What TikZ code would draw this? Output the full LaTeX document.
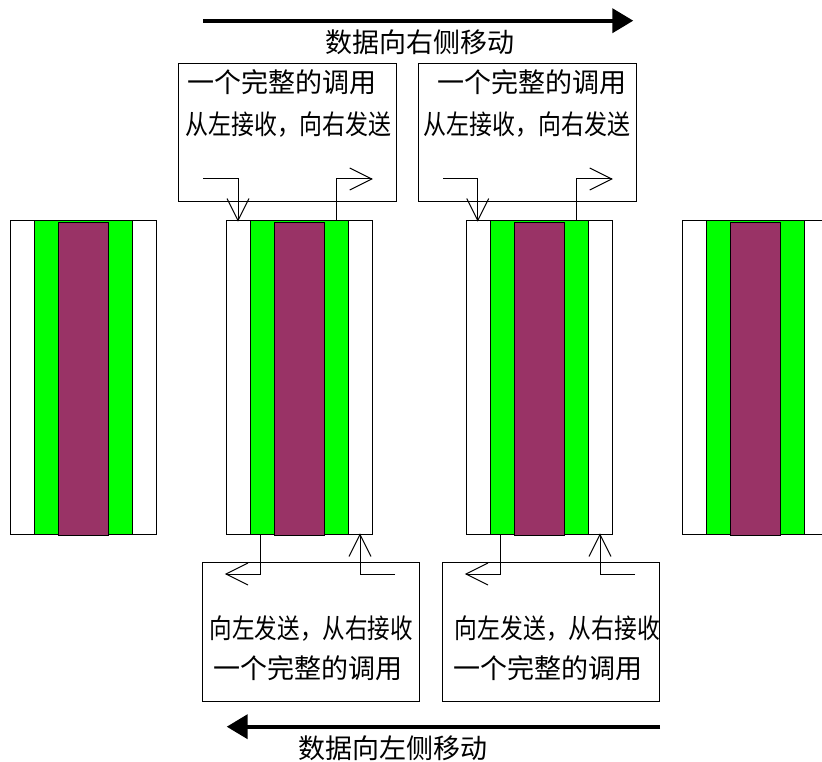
\documentclass[tikz,border=0pt]{standalone}
\usepackage{fontspec}
\usepackage{graphicx}
\setmainfont{Noto Sans CJK SC}
\usetikzlibrary{arrows.meta}
\definecolor{colgreen}{RGB}{0,255,0}
\definecolor{colpurple}{RGB}{153,51,102}
\tikzset{
  outerbox/.style={draw=black, line width=1pt, fill=white, minimum width=145.6pt, minimum height=313pt, inner sep=0pt},
  greenbox/.style={draw=black, line width=1pt, fill=colgreen, minimum width=97.6pt, minimum height=313pt, inner sep=0pt},
  purplebox/.style={draw=black, line width=1pt, fill=colpurple, minimum width=50pt, minimum height=313pt, inner sep=0pt},
  callbox/.style={draw=black, line width=1pt, minimum width=218pt, minimum height=138pt, inner sep=0pt},
  txt/.style={inner sep=0pt, font=\fontsize{27}{30}\selectfont},
  sline/.style={line width=1pt},
  bigarrow/.style={line width=4pt, -{Triangle[length=21pt,width=24pt]}}
}
\begin{document}
\begin{tikzpicture}[x=1pt,y=-1pt]
\useasboundingbox (0,0) rectangle (822,762);
% columns
\foreach \i/\cx in {1/83.5,2/299.5,3/539.5,4/755.5}{
  \node[outerbox] (o\i) at (\cx,377.5) {};
  \node[greenbox] (g\i) at (\cx,377.5) {};
  \node[purplebox] (p\i) at (\cx,379) {};
}
% call boxes
\node[callbox] (b1) at (287,133) {};
\node[callbox] (b2) at (527,133) {};
\node[callbox, minimum width=217.3pt, minimum height=138.7pt] (b3) at (311.3,631.7) {};
\node[callbox, minimum width=217.3pt, minimum height=138.7pt] (b4) at (551.3,631.7) {};
% texts
\node[txt] (t1a) at (281.5,81.7) {一个完整的调用};
\node[txt] (t1b) at (288.5,125) {\scalebox{0.85}[1]{从左接收，向右发送}};
\node[txt] (t2a) at (531.7,81.7) {一个完整的调用};
\node[txt] (t2b) at (526.7,125) {\scalebox{0.85}[1]{从左接收，向右发送}};
\node[txt] (t3a) at (311.3,628.3) {\scalebox{0.835}[1]{向左发送，从右接收}};
\node[txt] (t3b) at (307.5,668.3) {一个完整的调用};
\node[txt] (t4a) at (557.5,628.3) {\scalebox{0.845}[1]{向左发送，从右接收}};
\node[txt] (t4b) at (547.5,668.3) {一个完整的调用};
% top small arrows (box 1 / column 2)
\coordinate (r1) at (203,179);
\coordinate (k1) at (238,179);
\coordinate (e1) at (k1 |- o2.north);
\draw[sline] (r1) -- (k1) -- (e1);
\draw[sline] (e1) ++(-11,-22) -- (e1) -- ++(11,-22);
\coordinate (q1) at (336.7,179);
\coordinate (s1) at (371.7,179);
\draw[sline] (q1 |- o2.north) -- (q1) -- (s1);
\draw[sline] (s1) ++(-22,-11) -- (s1) -- ++(-22,11);
% top small arrows (box 2 / column 3)
\coordinate (r2) at (443,179);
\coordinate (k2) at (477.7,179);
\coordinate (e2) at (k2 |- o3.north);
\draw[sline] (r2) -- (k2) -- (e2);
\draw[sline] (e2) ++(-11,-22) -- (e2) -- ++(11,-22);
\coordinate (q2) at (576.7,179);
\coordinate (s2) at (611.7,179);
\draw[sline] (q2 |- o3.north) -- (q2) -- (s2);
\draw[sline] (s2) ++(-22,-11) -- (s2) -- ++(-22,11);
% bottom small arrows (box 3 / column 2)
\coordinate (u1) at (260,574);
\coordinate (v1) at (226,574);
\draw[sline] (u1 |- o2.south) -- (u1) -- (v1);
\draw[sline] (v1) ++(22,-11) -- (v1) -- ++(22,11);
\coordinate (w1) at (395,574);
\coordinate (z1) at (360,574);
\coordinate (f1) at (z1 |- o2.south);
\draw[sline] (w1) -- (z1) -- (f1);
\draw[sline] (f1) ++(-11,22) -- (f1) -- ++(11,22);
% bottom small arrows (box 4 / column 3)
\coordinate (u2) at (500,574);
\coordinate (v2) at (466,574);
\draw[sline] (u2 |- o3.south) -- (u2) -- (v2);
\draw[sline] (v2) ++(22,-11) -- (v2) -- ++(22,11);
\coordinate (w2) at (635,574);
\coordinate (z2) at (600,574);
\coordinate (f2) at (z2 |- o3.south);
\draw[sline] (w2) -- (z2) -- (f2);
\draw[sline] (f2) ++(-11,22) -- (f2) -- ++(11,22);
% big arrows
\coordinate (ta) at (203.3,20.7);
\coordinate (tb) at (633.3,20.7);
\draw[bigarrow] (ta) -- (tb);
\node[txt] (tt) at (420.3,42) {数据向右侧移动};
\coordinate (ba) at (660,726.7);
\coordinate (bb) at (226.7,726.7);
\draw[bigarrow] (ba) -- (bb);
\node[txt] (bt) at (393.3,748) {数据向左侧移动};
\end{tikzpicture}
\end{document}
